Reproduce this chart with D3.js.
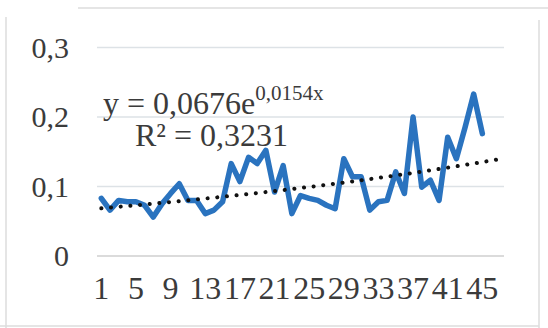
<!DOCTYPE html>
<html>
<head>
<meta charset="utf-8">
<script src="https://d3js.org/d3.v7.min.js"></script>
<style>
  body { margin: 0; background: #fff; }
  text { font-family: "Liberation Serif", "Times New Roman", serif; fill: #3b3b3b; }
</style>
</head>
<body>
<script>
// series values (points 1..45)
var values = [0.083, 0.066, 0.080, 0.078, 0.078, 0.073, 0.056, 0.075, 0.090, 0.104,
              0.080, 0.080, 0.061, 0.066, 0.078, 0.133, 0.107, 0.142, 0.133, 0.152,
              0.092, 0.130, 0.061, 0.087, 0.083, 0.080, 0.073, 0.068, 0.140, 0.114,
              0.114, 0.066, 0.078, 0.080, 0.121, 0.090, 0.200, 0.099, 0.109, 0.080,
              0.171, 0.140, 0.185, 0.233, 0.176];
var categories = values.map((v, i) => i + 1);
var forecastForward = 2; // trendline runs 2 periods past the data
var xTickLabels = [1, 5, 9, 13, 17, 21, 25, 29, 33, 37, 41, 45];
var yTicks = [0, 0.1, 0.2, 0.3];
var yTickLabels = ["0", "0,1", "0,2", "0,3"];

// exponential trendline as printed on the chart
var trendA = 0.0676;
var trendB = 0.0154;
var equationMain = "y = 0,0676e";
var equationExp = "0,0154x";
var rSquaredText = "R\u00b2 = 0,3231";

var width = 548;
var height = 328;
var plot = { left: 97, right: 504, top: 47.5, bottom: 256 };

var svg = d3.select("body").append("svg")
            .attr("width", width)
            .attr("height", height);

// faint frame of the chart area
var frame = svg.append("g").attr("stroke", "#dcdcdc").attr("stroke-width", 1.5);
frame.append("line").attr("x1", 78).attr("x2", 548).attr("y1", 8).attr("y2", 8);
frame.append("line").attr("x1", 6).attr("x2", 6).attr("y1", 17).attr("y2", 328);
frame.append("line").attr("x1", 539).attr("x2", 539).attr("y1", 20).attr("y2", 328);
frame.append("line").attr("x1", 0).attr("x2", 539).attr("y1", 326).attr("y2", 326);

var allCats = d3.range(1, categories.length + forecastForward + 1);

var x = d3.scaleBand()
          .domain(allCats)
          .range([plot.left, plot.right]);

var xc = (c) => x(c) + x.bandwidth() / 2;

var y = d3.scaleLinear()
          .domain([0, 0.3])
          .range([plot.bottom, plot.top]);

// gridlines
svg.append("g")
    .selectAll("line")
    .data(yTicks)
    .enter()
    .append("line")
    .attr("x1", plot.left)
    .attr("x2", plot.right)
    .attr("y1", (d) => y(d))
    .attr("y2", (d) => y(d))
    .attr("stroke", (d) => d === 0 ? "#cfcfcf" : "#dde2e6")
    .attr("stroke-width", 1.5);

// y axis labels
var yAxis = d3.axisLeft(y)
              .tickValues(yTicks)
              .tickFormat((d, i) => yTickLabels[i])
              .tickSize(0)
              .tickPadding(0);

var yAxisG = svg.append("g")
    .attr("transform", "translate(69,0)")
    .call(yAxis);
yAxisG.select(".domain").remove();
yAxisG.selectAll("text")
    .attr("font-size", "30px")
    .attr("font-family", "Liberation Serif")
    .attr("fill", "#3b3b3b");

// x axis labels (crowded, the digits nearly touch)
var xAxis = d3.axisBottom(x)
              .tickValues(xTickLabels)
              .tickSize(0)
              .tickPadding(0);

var xAxisG = svg.append("g")
    .attr("transform", "translate(0,276)")
    .call(xAxis);
xAxisG.select(".domain").remove();
xAxisG.selectAll("text")
    .attr("font-size", "32px")
    .attr("font-family", "Liberation Serif")
    .attr("fill", "#3b3b3b");

// data line
var line = d3.line()
             .x((d, i) => xc(categories[i]))
             .y((d) => y(d));

svg.append("path")
    .datum(values)
    .attr("d", line)
    .attr("fill", "none")
    .attr("stroke", "#2a73bf")
    .attr("stroke-width", 5.5)
    .attr("stroke-linejoin", "round")
    .attr("stroke-linecap", "round");

// dotted trendline
var trend = d3.line()
              .x((d) => xc(d))
              .y((d) => y(trendA * Math.exp(trendB * d)));

svg.append("path")
    .datum(allCats)
    .attr("d", trend)
    .attr("fill", "none")
    .attr("stroke", "#111")
    .attr("stroke-width", 4)
    .attr("stroke-linecap", "round")
    .attr("stroke-dasharray", "0.1,9.6");

// trendline equation
var eq = svg.append("text")
    .attr("x", 103)
    .attr("y", 114)
    .attr("font-size", "32px");
eq.append("tspan").text(equationMain);
eq.append("tspan")
    .attr("font-size", "21px")
    .attr("dy", -14)
    .text(equationExp);

svg.append("text")
    .attr("x", 135)
    .attr("y", 146)
    .attr("font-size", "32px")
    .text(rSquaredText);
</script>
</body>
</html>
